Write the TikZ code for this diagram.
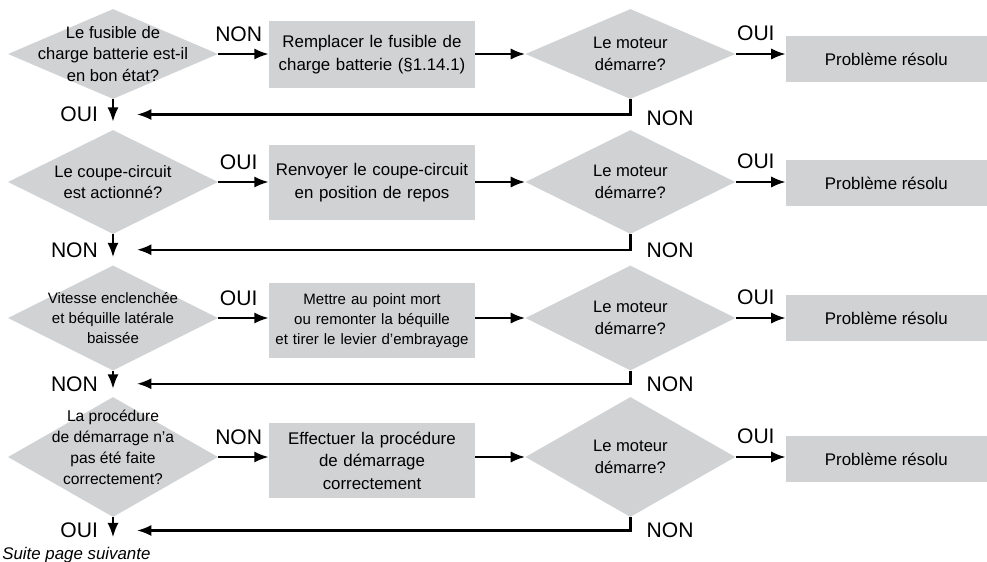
\documentclass[tikz,border=0pt]{standalone}
\usepackage{fontspec}
\setmainfont{Liberation Sans}
\usetikzlibrary{shapes.geometric, arrows.meta, positioning, calc}

\definecolor{boxgray}{RGB}{209,210,212}
\newcommand{\qfont}{\fontsize{11.8}{15.3}\selectfont}
\newcommand{\txtfont}{\fontsize{12}{16}\selectfont}
\newcommand{\smfont}{\fontsize{10.7}{14.2}\selectfont}
\newcommand{\mdfont}{\fontsize{11.1}{15}\selectfont}
\newcommand{\lblfont}{\fontsize{15}{18}\selectfont}

\begin{document}
\begin{tikzpicture}[
  qbox/.style  = {diamond, fill=boxgray, inner sep=0pt,
                  minimum width=5.25cm, minimum height=#1},
  qtext/.style = {align=center, font=\qfont},
  pbox/.style  = {rectangle, fill=boxgray, inner sep=0pt, text width=5.15cm,
                  minimum height=#1, align=center, font=\txtfont},
  okbox/.style = {rectangle, fill=boxgray, inner sep=0pt, minimum width=5.025cm,
                  minimum height=1.15cm, font=\txtfont},
  lbl/.style   = {inner sep=0pt, font=\lblfont},
  arr/.style   = {-{Latex[length=3.6mm,width=2.8mm]}, line width=1.6pt},
]
\useasboundingbox (0,0) rectangle (24.675,-14.025);

%% -- Ligne 1 : fusible de charge ------------------------------------------
\node[qbox=2.25cm, label={[qtext]center:{Le fusible de\\charge batterie est-il\\en bon état?}}]
     (q1) at (2.825,-1.35) {};
\node[pbox=1.675cm] (p1) at (9.3,-1.36) {Remplacer le fusible de\\charge batterie (§1.14.1)};
\node[qbox=2.25cm, label={[qtext]center:{Le moteur\\démarre?}}] (m1) at (15.76,-1.35) {};
\node[okbox] (r1) at (22.16,-1.475) {Problème résolu};

%% -- Ligne 2 : coupe-circuit ----------------------------------------------
\node[qbox=2.6cm, label={[qtext]center:{Le coupe-circuit\\est actionné?}}]
     (q2) at (2.825,-4.55) {};
\node[pbox=1.875cm] (p2) at (9.3,-4.5625) {Renvoyer le coupe-circuit\\en position de repos};
\node[qbox=2.6cm, label={[qtext]center:{Le moteur\\démarre?}}] (m2) at (15.76,-4.55) {};
\node[okbox] (r2) at (22.16,-4.575) {Problème résolu};

%% -- Ligne 3 : vitesse et béquille ----------------------------------------
\node[qbox=2.625cm, label={[qtext, font=\smfont]center:{Vitesse enclenchée\\et béquille latérale\\baissée}}]
     (q3) at (2.825,-7.95) {};
\node[pbox=1.875cm, font=\smfont] (p3) at (9.3,-8.0125)
     {Mettre au point mort\\ou remonter la béquille\\et tirer le levier d’embrayage};
\node[qbox=2.625cm, label={[qtext]center:{Le moteur\\démarre?}}] (m3) at (15.76,-7.95) {};
\node[okbox] (r3) at (22.16,-7.95) {Problème résolu};

%% -- Ligne 4 : procédure de démarrage -------------------------------------
\node[qbox=3.0cm, label={[qtext, font=\mdfont, yshift=0.25cm]center:{La procédure\\de démarrage n’a\\pas été faite\\correctement?}}]
     (q4) at (2.825,-11.425) {};
\node[pbox=1.875cm] (p4) at (9.3,-11.51) {Effectuer la procédure\\de démarrage\\correctement};
\node[qbox=3.0cm, label={[qtext]center:{Le moteur\\démarre?}}] (m4) at (15.76,-11.425) {};
\node[okbox] (r4) at (22.16,-11.475) {Problème résolu};

\node[anchor=west, inner sep=0pt, font=\txtfont\itshape] (suite) at (0.05,-13.875)
     {Suite page suivante};

%% Points de retour
\coordinate (j1) at ($(q1.south)!0.5!(q2.north)$);
\coordinate (j2) at ($(q2.south)!0.5!(q3.north)$);
\coordinate (j3) at ($(q3.south)!0.5!(q4.north)$);
\coordinate (j4) at ($(q4.south)+(0,-0.33)$);
\coordinate (fin) at ($(q4.south)+(0,-0.5)$);

%% Flèches horizontales
\draw[arr] (q1.east) -- node[lbl, above, xshift=-0.12cm, yshift=0.27cm] {NON} (q1.east -| p1.west);
\draw[arr] (q2.east) -- node[lbl, above, xshift=-0.12cm, yshift=0.27cm] {OUI} (q2.east -| p2.west);
\draw[arr] (q3.east) -- node[lbl, above, xshift=-0.12cm, yshift=0.27cm] {OUI} (q3.east -| p3.west);
\draw[arr] (q4.east) -- node[lbl, above, xshift=-0.12cm, yshift=0.27cm] {NON} (q4.east -| p4.west);

\draw[arr] (p1.east |- m1.west) -- (m1.west);
\draw[arr] (p2.east |- m2.west) -- (m2.west);
\draw[arr] (p3.east |- m3.west) -- (m3.west);
\draw[arr] (p4.east |- m4.west) -- (m4.west);

\draw[arr] (m1.east) -- node[lbl, above, xshift=-0.12cm, yshift=0.3cm] {OUI} (m1.east -| r1.west);
\draw[arr] (m2.east) -- node[lbl, above, xshift=-0.12cm, yshift=0.3cm] {OUI} (m2.east -| r2.west);
\draw[arr] (m3.east) -- node[lbl, above, xshift=-0.12cm, yshift=0.3cm] {OUI} (m3.east -| r3.west);
\draw[arr] (m4.east) -- node[lbl, above, xshift=-0.12cm, yshift=0.3cm] {OUI} (m4.east -| r4.west);

%% Flèches verticales (à gauche)
\draw[arr, shorten >=0.2cm] (q1.south) -- node[lbl, anchor=east, xshift=-0.35cm] {OUI} (q2.north);
\draw[arr, shorten >=0.2cm] (q2.south) -- node[lbl, anchor=east, xshift=-0.35cm] {NON} (q3.north);
\draw[arr, shorten >=0.2cm] (q3.south) -- node[lbl, anchor=east, xshift=-0.35cm] {NON} (q4.north);
\draw[arr] (q4.south) -- node[lbl, anchor=east, xshift=-0.35cm, pos=0.65] {OUI} (fin);

%% Retours NON
\draw[arr, shorten >=0.6cm] (m1.south) |- node[lbl, anchor=west, xshift=0.38cm, yshift=-0.1cm] {NON} (j1);
\draw[arr, shorten >=0.6cm] (m2.south) |- node[lbl, anchor=west, xshift=0.38cm] {NON} (j2);
\draw[arr, shorten >=0.6cm] (m3.south) |- node[lbl, anchor=west, xshift=0.38cm] {NON} (j3);
\draw[arr, shorten >=0.6cm] (m4.south) |- node[lbl, anchor=west, xshift=0.38cm] {NON} (j4);

\end{tikzpicture}
\end{document}
